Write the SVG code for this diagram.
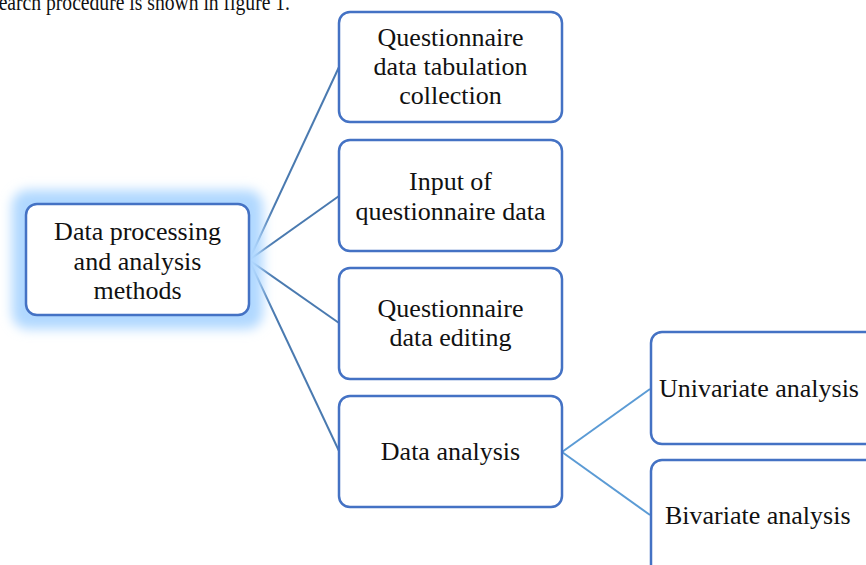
<svg xmlns="http://www.w3.org/2000/svg" width="866" height="565" viewBox="0 0 866 565">
<style>
.box{fill:#ffffff;stroke:#4472c4;stroke-width:2.5}
.t{font-family:"Liberation Serif",serif;font-size:26px;fill:#111111;text-anchor:middle}
.ts{font-family:"Liberation Serif",serif;font-size:26px;fill:#111111;text-anchor:start}
.c{stroke:#4a7ab0;stroke-width:2;fill:none}
.c2{stroke:#5b9bd5;stroke-width:2;fill:none}
</style>
<defs>
<filter id="glow" x="-30%" y="-40%" width="160%" height="180%">
<feGaussianBlur stdDeviation="6"/>
</filter>
</defs>
<text x="-9" y="10" font-family="Liberation Serif, serif" font-size="24" fill="#111111" textLength="299" lengthAdjust="spacingAndGlyphs">search procedure is shown in figure 1.</text>
<g id="connectors">
<line class="c" x1="249" y1="260" x2="339" y2="67"/>
<line class="c" x1="249" y1="260" x2="339" y2="196"/>
<line class="c" x1="249" y1="260" x2="339" y2="323"/>
<line class="c" x1="249" y1="260" x2="339" y2="451"/>
<line class="c2" x1="562" y1="452" x2="650" y2="389"/>
<line class="c2" x1="562" y1="452" x2="650" y2="515"/>
</g>
<g id="main">
<rect x="12" y="190" width="251" height="139" rx="16" fill="#b0d8ff" filter="url(#glow)"/>
<rect class="box" x="26" y="204" width="223" height="111" rx="11"/>
<text class="t" x="137.5" y="240">Data processing</text>
<text class="t" x="137.5" y="270">and analysis</text>
<text class="t" x="137.5" y="299">methods</text>
</g>
<g id="n1">
<rect class="box" x="339" y="12" width="223" height="110" rx="11"/>
<text class="t" x="450.5" y="46">Questionnaire</text>
<text class="t" x="450.5" y="75">data tabulation</text>
<text class="t" x="450.5" y="104">collection</text>
</g>
<g id="n2">
<rect class="box" x="339" y="140" width="223" height="111" rx="11"/>
<text class="t" x="450.5" y="190">Input of</text>
<text class="t" x="450.5" y="220">questionnaire data</text>
</g>
<g id="n3">
<rect class="box" x="339" y="268" width="223" height="111" rx="11"/>
<text class="t" x="450.5" y="317">Questionnaire</text>
<text class="t" x="450.5" y="346">data editing</text>
</g>
<g id="n4">
<rect class="box" x="339" y="396" width="223" height="111" rx="11"/>
<text class="t" x="450.5" y="460">Data analysis</text>
</g>
<g id="n5">
<rect class="box" x="651" y="332" width="240" height="112" rx="11"/>
<text class="ts" x="659" y="397">Univariate analysis</text>
</g>
<g id="n6">
<rect class="box" x="651" y="460" width="240" height="130" rx="11"/>
<text class="ts" x="665" y="524">Bivariate analysis</text>
</g>
</svg>
